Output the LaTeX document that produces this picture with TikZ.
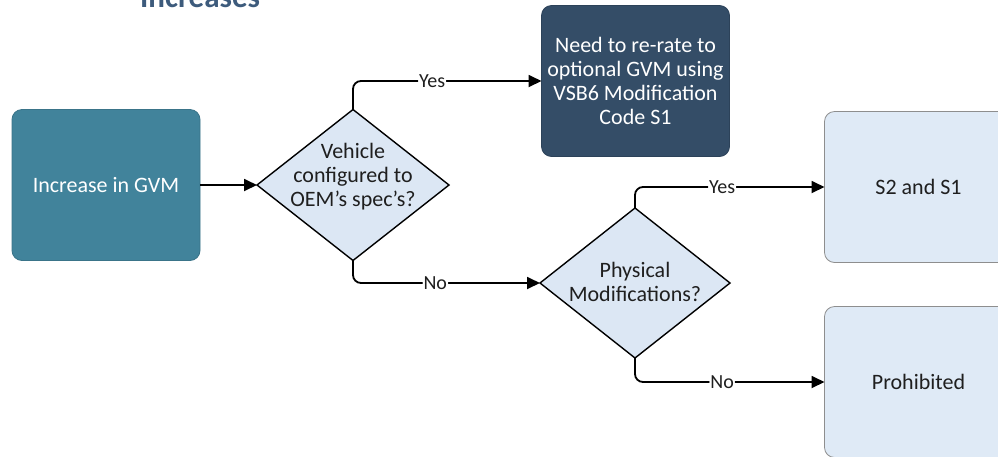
\documentclass[tikz,border=0pt]{standalone}
\usepackage{fontspec}
\setmainfont{Carlito}
\usetikzlibrary{shapes.geometric,arrows.meta}
\definecolor{tealbox}{HTML}{41839B}
\definecolor{tealborder}{HTML}{3A7489}
\definecolor{darkbox}{HTML}{344D67}
\definecolor{darkborder}{HTML}{2C4259}
\definecolor{titlecol}{HTML}{3D5B7C}
\definecolor{lightfill}{HTML}{DFEAF6}
\definecolor{lightborder}{HTML}{8E8E8E}
\definecolor{diafill}{HTML}{DCE7F4}
\begin{document}
\begin{tikzpicture}[x=1pt,y=-1pt,
 box/.style={rectangle, rounded corners=10pt, minimum width=188pt, minimum height=151pt, inner sep=0pt, outer sep=0pt, line width=0.8pt, align=center, font=\fontsize{22}{24}\selectfont},
 dia/.style={diamond, draw=black, line width=1.4pt, fill=diafill, minimum width=192pt, minimum height=151pt, inner sep=0pt, outer sep=0pt},
 dtxt/.style={align=center, inner sep=0pt, text=black!88, font=\fontsize{22}{24}\selectfont},
 conn/.style={line width=1.8pt, -{Triangle[length=13pt,width=12pt]}, rounded corners=8pt},
 lab/.style={fill=white, inner sep=1pt, text=black!88, font=\fontsize{20}{22}\selectfont}]
\useasboundingbox (0,0) rectangle (998,456);
\clip (0,0) rectangle (998,456);
\fill[white] (0,0) rectangle (998,456);

\node[anchor=base west, inner sep=0pt, text=titlecol, font=\fontsize{31}{34}\selectfont\bfseries] (title) at (140,7) {Increases};

\node[box, fill=tealbox, draw=tealborder, text=white] (b1) at (106,185) {Increase in GVM};
\node[dia] (d1) at (353,185) {};
\node[dtxt] (d1t) at (353,177) {Vehicle\\configured to\\OEM’s spec’s?};
\node[box, fill=darkbox, draw=darkborder, text=white] (nb) at (635.5,81) {Need to re-rate to\\optional GVM using\\VSB6 Modification\\Code S1};
\node[dia, minimum width=190pt, minimum height=150pt] (d2) at (635,283) {};
\node[dtxt] (d2t) at (635,282) {Physical\\Modifications?};
\node[box, fill=lightfill, draw=lightborder, text=black!88] (s2) at (918.5,187) {S2 and S1};
\node[box, fill=lightfill, draw=lightborder, text=black!88] (pr) at (918.5,382) {Prohibited};

\draw[conn] (b1.east) -- (d1.west);
\draw[conn] (d1.north) |- node[lab,pos=0.71]{Yes} (nb.west);
\draw[conn] (d1.south) |- node[lab,pos=0.72]{No} (d2.west);
\draw[conn] (d2.north) |- node[lab,pos=0.73]{Yes} (s2.west);
\draw[conn] (d2.south) |- node[lab,pos=0.73]{No} (pr.west);
\end{tikzpicture}
\end{document}
